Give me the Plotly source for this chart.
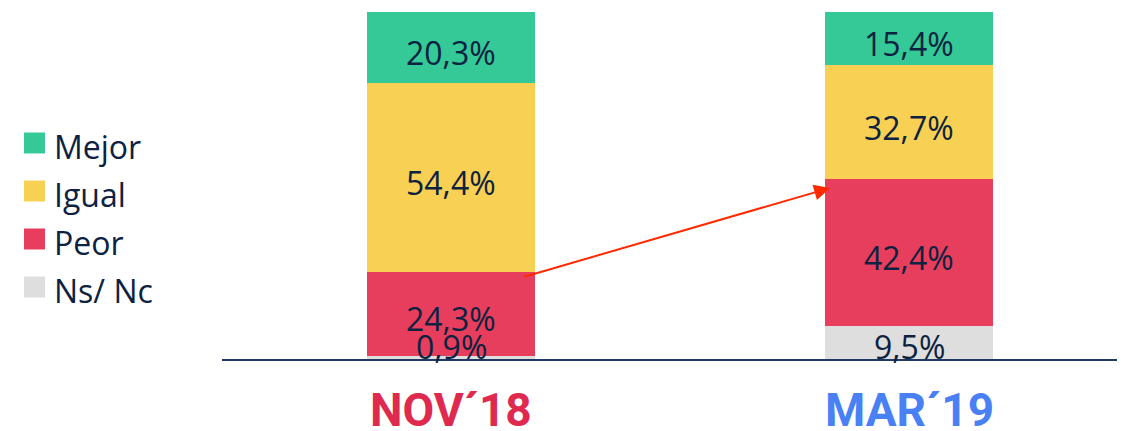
import plotly.graph_objects as go

categories = ["NOV´18", "MAR´19"]
category_colors = ["#E0294F", "#4A80F5"]
series_names = ["Ns/ Nc", "Peor", "Igual", "Mejor"]
series_colors = ["#DEDEDE", "#E63E5C", "#F8D154", "#34C996"]
ns_nc = [0.9, 9.5]
peor = [24.3, 42.4]
igual = [54.4, 32.7]
mejor = [20.3, 15.4]
series_values = [ns_nc, peor, igual, mejor]

x_pos = [0, 1]
TEXT = "#0D2240"
FONT = "Open Sans"

# page offset (browser body margin)
OFF = 8
plot_l, plot_r, plot_t, plot_b = 222, 1118, 12, 359
pw, ph = plot_r - plot_l, plot_b - plot_t

fig = go.Figure()
for name, color, vals in zip(series_names, series_colors, series_values):
    fig.add_trace(go.Bar(
        x=x_pos, y=vals, name=name, marker=dict(color=color, line=dict(width=0)),
        width=0.367, showlegend=False, hoverinfo="skip",
    ))

# value labels
cum = [0.0, 0.0]
annotations = []
for s, vals in enumerate(series_values):
    for i, v in enumerate(vals):
        if s == 0:
            y, shift = 0, 13
        else:
            y, shift = cum[i] + v / 2, -5
        annotations.append(dict(
            x=x_pos[i], y=y, text=f"{v:.1f}%".replace(".", ","),
            showarrow=False, yshift=shift, yanchor="middle",
            font=dict(family=FONT, size=32, color=TEXT),
        ))
        cum[i] += v

# arrow from Peor of first bar to Peor of second bar
annotations.append(dict(
    x=0.8275, y=49.3, ax=0.157, ay=23.6, xref="x", yref="y", axref="x", ayref="y",
    showarrow=True, arrowhead=2, arrowsize=1.6, arrowwidth=2, arrowcolor="#FF2A00", text="",
))

# category labels
for xp, t, c in zip(x_pos, categories, category_colors):
    annotations.append(dict(
        x=xp, y=0, yanchor="middle", yshift=-51, text=f"<b>{t}</b>", showarrow=False,
        font=dict(family="Roboto", size=46, color=c),
    ))

# custom legend (top item = Mejor)
legend_order = list(zip(series_names, series_colors))[::-1]
shapes = []
for k, (name, color) in enumerate(legend_order):
    cy = 143 + 48 * k
    shapes.append(dict(
        type="rect", xref="paper", yref="paper",
        x0=(24 - plot_l) / pw, x1=(45 - plot_l) / pw,
        y0=(plot_b - (cy + 10.5)) / ph, y1=(plot_b - (cy - 10.5)) / ph,
        fillcolor=color, line=dict(width=0),
    ))
    annotations.append(dict(
        xref="paper", yref="paper", x=(52 - plot_l) / pw, y=(plot_b - (cy + 3)) / ph,
        xanchor="left", yanchor="middle", text=name, showarrow=False,
        font=dict(family=FONT, size=32, color=TEXT),
    ))

fig.update_layout(
    barmode="stack",
    width=1125, height=431,
    margin=dict(l=plot_l - OFF, r=1125 + OFF - plot_r, t=plot_t - OFF, b=431 + OFF - plot_b),
    paper_bgcolor="white", plot_bgcolor="white",
    annotations=annotations, shapes=shapes,
    xaxis=dict(
        range=[-0.5, 1.456], showticklabels=False, ticks="",
        showgrid=False, zeroline=False, showline=True, linecolor="#1F3864", linewidth=2,
    ),
    yaxis=dict(range=[0, 100], visible=False, showgrid=False, zeroline=False),
    showlegend=False,
)

fig.write_html("out.html")
